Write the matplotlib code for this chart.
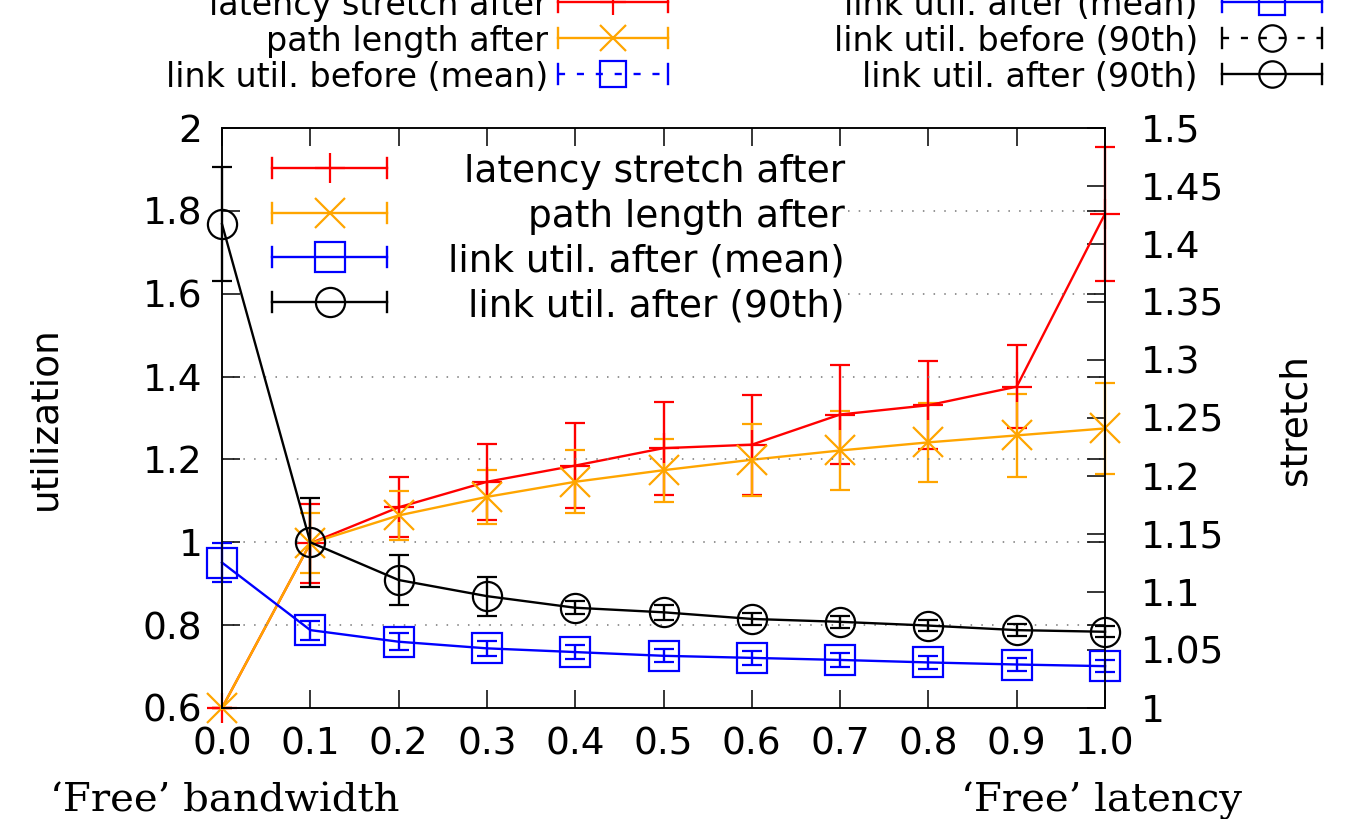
import matplotlib
matplotlib.use('Agg')
import matplotlib.pyplot as plt
from matplotlib.lines import Line2D
from matplotlib.ticker import FuncFormatter

# datos
x = [0.0, 0.1, 0.2, 0.3, 0.4, 0.5, 0.6, 0.7, 0.8, 0.9, 1.0]

latency = [1.0, 1.142, 1.173, 1.195, 1.209, 1.224, 1.227, 1.253, 1.261, 1.277, 1.426]
latency_err = [0.0, 0.034, 0.026, 0.033, 0.037, 0.040, 0.043, 0.043, 0.038, 0.036, 0.058]
path_len = [1.0, 1.142, 1.166, 1.182, 1.195, 1.205, 1.214, 1.222, 1.229, 1.235, 1.241]
path_err = [0.0, 0.026, 0.021, 0.023, 0.027, 0.027, 0.031, 0.034, 0.034, 0.036, 0.039]

util_mean = [0.951, 0.788, 0.760, 0.744, 0.735, 0.726, 0.721, 0.716, 0.710, 0.705, 0.701]
util_mean_err = [0.048, 0.023, 0.020, 0.018, 0.017, 0.016, 0.016, 0.016, 0.015, 0.015, 0.015]
util_90 = [1.768, 1.0, 0.909, 0.870, 0.842, 0.831, 0.815, 0.808, 0.799, 0.788, 0.784]
util_90_err = [0.137, 0.107, 0.061, 0.047, 0.016, 0.018, 0.015, 0.015, 0.014, 0.014, 0.013]

left_ticks = [0.6, 0.8, 1.0, 1.2, 1.4, 1.6, 1.8, 2.0]
right_ticks = [1.0, 1.05, 1.1, 1.15, 1.2, 1.25, 1.3, 1.35, 1.4, 1.45, 1.5]

RED = '#ff0000'
ORANGE = '#ffa500'
BLUE = '#0000ff'
BLACK = '#000000'

W, H = 1348, 819
FS = 27

plt.rcParams['font.family'] = ['DejaVu Sans']

fig = plt.figure(figsize=(W / 100, H / 100), dpi=100)
ax = fig.add_axes([222 / W, 1 - 708 / H, (1105 - 222) / W, (708 - 128) / H])
ax2 = ax.twinx()
ax.set_zorder(ax2.get_zorder() + 1)
ax.patch.set_visible(False)


def draw(axis, y, err, color, marker, ms):
    cont = axis.errorbar(x, y, yerr=err, color=color, marker=marker, ms=ms,
                         mfc='none', mec=color, mew=1.6, lw=1.7,
                         elinewidth=1.7, capsize=7, capthick=1.7)
    cont.lines[0].set_clip_on(False)
    for art in cont.lines[1]:
        art.set_clip_on(False)
    for art in cont.lines[2]:
        art.set_clip_on(False)


draw(ax2, latency, latency_err, RED, '+', 21)
draw(ax2, path_len, path_err, ORANGE, 'x', 21)
draw(ax, util_mean, util_mean_err, BLUE, 's', 21)
draw(ax, util_90, util_90_err, BLACK, 'o', 21)

ax.set_xlim(0, 1.0)
ax.set_ylim(0.6, 2.0)
ax2.set_ylim(1.0, 1.5)

ax.set_xticks(x)
ax.xaxis.set_major_formatter(FuncFormatter(lambda v, p: '%.1f' % v))
ax.set_yticks(left_ticks)
ax.yaxis.set_major_formatter(FuncFormatter(lambda v, p: '%g' % v))
ax2.set_yticks(right_ticks)
ax2.yaxis.set_major_formatter(FuncFormatter(lambda v, p: '%g' % v))

ax.tick_params(axis='both', direction='in', length=13, width=1.1, labelsize=FS)
ax.tick_params(axis='x', top=True, pad=13)
ax.tick_params(axis='y', right=True, labelright=False, pad=14)
ax2.tick_params(axis='y', direction='in', length=13, width=1.1, labelsize=FS, pad=26)

for a in (ax, ax2):
    for s in a.spines.values():
        s.set_linewidth(1.1)

# rejilla punteada (oculta detras de la leyenda en 1.6 y 1.8)
for t in left_ticks[1:-1]:
    start = 0.709 if t > 1.5 else 0.0
    ax.axhline(t, xmin=start, color='#777777', lw=1.1, ls=(0, (1, 6)), zorder=0)

ax.minorticks_off()
ax2.minorticks_off()


def px(xp, yp):
    return xp / W, 1 - yp / H


def key(xl, xr, yp, color, marker, text, tx, dashed=False, fs=FS, ms=21):
    ls = (0, (3, 5)) if dashed else '-'
    x0, y0 = px(xl, yp)
    x1, _ = px(xr, yp)
    fig.add_artist(Line2D([x0, x1], [y0, y0], color=color, lw=1.7, ls=ls,
                          transform=fig.transFigure))
    for xc in (xl, xr):
        a, b = px(xc, yp - 10)
        _, c = px(xc, yp + 10)
        fig.add_artist(Line2D([a, a], [b, c], color=color, lw=1.7,
                              transform=fig.transFigure))
    xm, ym = px((xl + xr) / 2, yp)
    fig.add_artist(Line2D([xm], [ym], marker=marker, ms=ms, mfc='none',
                          mec=color, mew=1.6, ls='none',
                          transform=fig.transFigure))
    tx_, ty_ = px(tx, yp)
    fig.text(tx_, ty_, text, ha='right', va='center_baseline', fontsize=fs)


# leyenda interior
inner = [('latency stretch after', RED, '+'),
         ('path length after', ORANGE, 'x'),
         ('link util. after (mean)', BLUE, 's'),
         ('link util. after (90th)', BLACK, 'o')]
for i, (lab, col, mk) in enumerate(inner):
    key(272, 387, 168 + 44.7 * i, col, mk, lab, 845)

# leyenda superior (recortada)
top_left = [('latency stretch after', RED, '+', False),
            ('path length after', ORANGE, 'x', False),
            ('link util. before (mean)', BLUE, 's', True)]
top_right = [('link util. after (mean)', BLUE, 's', False),
             ('link util. before (90th)', BLACK, 'o', True),
             ('link util. after (90th)', BLACK, 'o', False)]
for i, (lab, col, mk, d) in enumerate(top_left):
    key(558, 668, 2 + 36 * i, col, mk, lab, 548, dashed=d, fs=24, ms=19)
for i, (lab, col, mk, d) in enumerate(top_right):
    key(1222, 1322, 2 + 36 * i, col, mk, lab, 1198, dashed=d, fs=24, ms=19)

fig.text(*px(45, 418), 'utilization', rotation=90, ha='center', va='center', fontsize=FS)
fig.text(*px(1295, 420), 'stretch', rotation=90, ha='center', va='center', fontsize=FS)

fig.text(*px(50, 812), '\u2018Free\u2019 bandwidth', ha='left', va='baseline',
         fontsize=29, family='DejaVu Serif')
fig.text(*px(1242, 812), '\u2018Free\u2019 latency', ha='right', va='baseline',
         fontsize=29, family='DejaVu Serif')

fig.savefig('out.png', dpi=100)
